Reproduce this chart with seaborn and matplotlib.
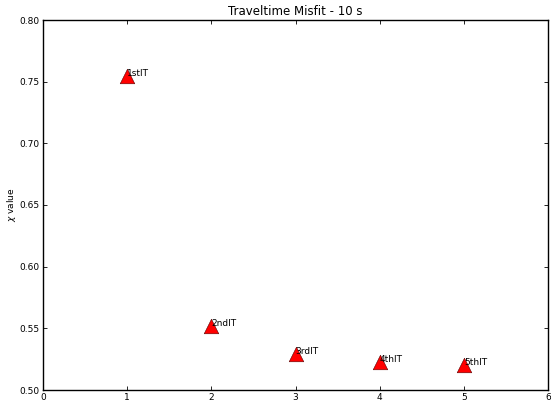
import matplotlib
matplotlib.use("Agg")
import matplotlib.pyplot as plt
import seaborn as sns
import pandas as pd

iterations = [1, 2, 3, 4, 5]
chi_values = [0.755, 0.552, 0.529, 0.523, 0.520]
labels = ["1stIT", "2ndIT", "3rdIT", "4thIT", "5thIT"]

sns.set_style("ticks", {"xtick.direction": "in", "ytick.direction": "in"})
plt.rcParams['font.family'] = ['DejaVu Sans']
plt.rcParams['text.color'] = 'black'
plt.rcParams['axes.labelcolor'] = 'black'
plt.rcParams['xtick.color'] = 'black'
plt.rcParams['ytick.color'] = 'black'

df = pd.DataFrame({"it": iterations, "chi": chi_values, "label": labels})

fig = plt.figure(figsize=(5.51, 4.0), dpi=100)
ax = fig.add_axes([0.078, 0.025, 0.917, 0.925])
sns.scatterplot(data=df, x="it", y="chi", marker="^", s=110, color="red",
                edgecolor="#550000", linewidth=0.4, ax=ax, zorder=3)
for x, y, t in zip(iterations, chi_values, labels):
    ax.text(x, y, t, fontsize=6.5, color="black", zorder=4)

ax.set_xlim(0, 6)
ax.set_ylim(0.50, 0.80)
ax.set_yticks([0.50, 0.55, 0.60, 0.65, 0.70, 0.75, 0.80])
ax.set_yticklabels(["0.50", "0.55", "0.60", "0.65", "0.70", "0.75", "0.80"])
ax.set_xticks([0, 1, 2, 3, 4, 5, 6])
ax.tick_params(labelsize=6.5, direction="in", top=True, right=True, length=3, width=0.6, pad=2.5,
               colors="black")
ax.set_xlabel("")
ax.set_ylabel(r"$\chi$ value", fontsize=6.5)
ax.yaxis.set_label_coords(-0.05, 0.5)
ax.set_title("Traveltime Misfit - 10 s", fontsize=8.5, color="black", pad=3.5)
for sp in ax.spines.values():
    sp.set_linewidth(1.0)
    sp.set_color("black")
fig.savefig("out.png", dpi=100)
